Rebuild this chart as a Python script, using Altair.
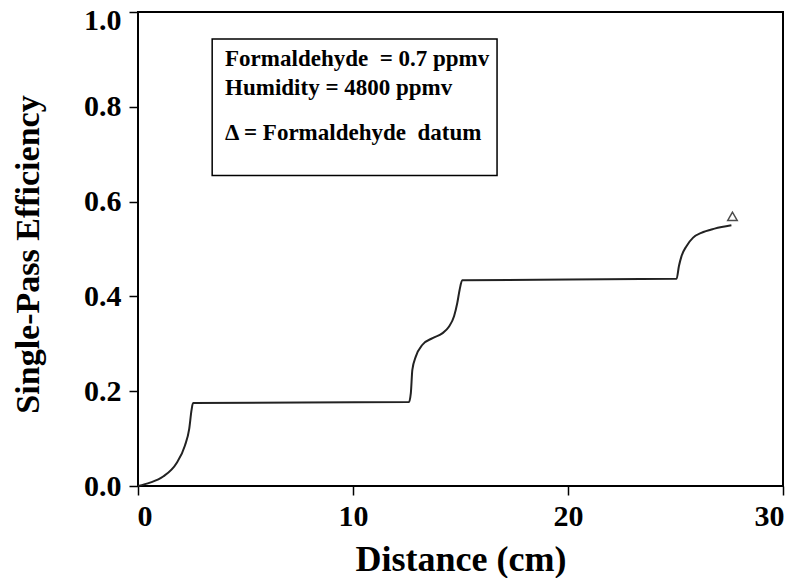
import altair as alt
import pandas as pd

# Curve
dist = [0.0, 0.56, 1.17, 1.79, 2.18, 2.38, 2.49, 2.56,
        12.6, 12.69, 12.76, 12.92, 13.23, 13.7, 14.15, 14.46, 14.7, 14.85, 14.96, 15.08,
        25.05, 25.16, 25.28, 25.51, 25.82, 26.2, 26.82, 27.6]
eff = [0.0, 0.007, 0.02, 0.048, 0.085, 0.12, 0.16, 0.175,
       0.177, 0.196, 0.245, 0.273, 0.298, 0.312, 0.322, 0.336, 0.358, 0.386, 0.414, 0.434,
       0.437, 0.464, 0.485, 0.506, 0.524, 0.534, 0.543, 0.55]

datum_x = [27.65]
datum_y = [0.569]

box_x = [3.45]
box_x2 = [16.7]
box_y = [0.655]
box_y2 = [0.943]

NB = "\u00a0"
notes = ["Formaldehyde" + NB + NB + "= 0.7 ppmv", "Humidity = 4800 ppmv",
         "\u0394 = Formaldehyde" + NB + NB + "datum"]
note_x = [4.05, 4.05, 4.05]
note_y = [0.886, 0.825, 0.729]

x_ticks = [0, 10, 20, 30]
y_ticks = [0.0, 0.2, 0.4, 0.6, 0.8, 1.0]

FONT = "Liberation Serif"

curve_df = pd.DataFrame({"d": dist, "e": eff})
datum_df = pd.DataFrame({"d": datum_x, "e": datum_y})
box_df = pd.DataFrame({"x": box_x, "x2": box_x2, "y": box_y, "y2": box_y2})
note_df = pd.DataFrame({"t": notes, "x": note_x, "y": note_y})

xscale = alt.Scale(domain=[0, 30], nice=False, zero=False)
yscale = alt.Scale(domain=[0, 1], nice=False)

xaxis = alt.Axis(values=x_ticks, format="d", title="Distance (cm)", grid=False, domain=False,
                 tickSize=9, tickWidth=1.5, tickColor="black",
                 labelFont=FONT, labelFontSize=30, labelFontWeight="bold", labelColor="black",
                 labelPadding=6, labelFlush=True, labelFlushOffset=1,
                 titleFont=FONT, titleFontSize=36, titleFontWeight="bold", titleColor="black",
                 titleY=84, titleBaseline="alphabetic")
yaxis = alt.Axis(values=y_ticks, format=".1f", title="Single-Pass Efficiency", grid=False, domain=False,
                 tickSize=9, tickWidth=1.5, tickColor="black",
                 labelFont=FONT, labelFontSize=30, labelFontWeight="bold", labelColor="black",
                 labelPadding=8, labelFlush=False,
                 labelOffset={"condition": {"test": "datum.value == 1", "value": 8}, "value": 0},
                 titleFont=FONT, titleFontSize=34, titleFontWeight="bold", titleColor="black",
                 titleX=-100, titleY=242, titleAngle=270, titleAlign="center", titleBaseline="alphabetic")

curve = alt.Chart(curve_df).mark_line(color="#222222", strokeWidth=2, interpolate="monotone").encode(
    x=alt.X("d:Q", scale=xscale, axis=xaxis),
    y=alt.Y("e:Q", scale=yscale, axis=yaxis),
)

datum = alt.Chart(datum_df).mark_point(shape="triangle-up", filled=False, color="black",
                                       size=90, strokeWidth=1.5).encode(
    x=alt.X("d:Q", scale=xscale),
    y=alt.Y("e:Q", scale=yscale),
)

box = alt.Chart(box_df).mark_rect(fill="white", stroke="black", strokeWidth=1.5).encode(
    x=alt.X("x:Q", scale=xscale), x2="x2:Q",
    y=alt.Y("y:Q", scale=yscale), y2="y2:Q",
)

text = alt.Chart(note_df).mark_text(font=FONT, fontSize=23, fontWeight="bold", color="black",
                                    align="left", baseline="alphabetic").encode(
    x=alt.X("x:Q", scale=xscale),
    y=alt.Y("y:Q", scale=yscale),
    text="t:N",
)

chart = alt.layer(curve, box, text, datum).properties(
    width=645, height=474,
    autosize=alt.AutoSizeParams(type="none"),
    padding={"left": 130, "top": 4, "right": 2, "bottom": 92},
    background="white",
).configure_view(stroke="black", strokeWidth=2)

chart.save("out.html", embed_options={"renderer": "svg", "actions": False})
